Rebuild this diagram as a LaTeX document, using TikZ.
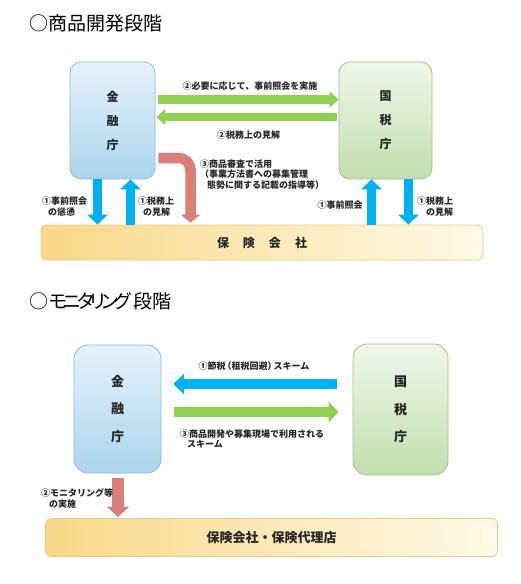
\documentclass[tikz,border=0pt]{standalone}
\usepackage{fontspec}
\setmainfont{Noto Sans CJK JP}
\newfontfamily\paltfont[RawFeature=+palt]{Noto Sans CJK JP}
\usetikzlibrary{arrows.meta}
\definecolor{arrblue}{HTML}{00B0F0}
\definecolor{arrgreen}{HTML}{92D050}
\definecolor{arrred}{HTML}{DA7F79}
\definecolor{bluetop}{HTML}{E6F2FB}
\definecolor{bluebot}{HTML}{ABD5ED}
\definecolor{blueedge}{HTML}{8FBBD9}
\definecolor{greentop}{HTML}{EFF7EA}
\definecolor{greenbot}{HTML}{C2DEAD}
\definecolor{greenedge}{HTML}{9FC58A}
\definecolor{yelleft}{HTML}{F8D888}
\definecolor{yelright}{HTML}{FFFAE8}
\definecolor{yeledge}{HTML}{E6CC80}
\definecolor{txt}{HTML}{262626}
\newcommand{\kk}{\hspace{-3.9pt}}
\begin{document}
\begin{tikzpicture}[x=1pt,y=-1pt,
  fsabox/.style={draw=blueedge, line width=0.8pt, rounded corners=11pt, top color=bluetop, bottom color=bluebot, align=center, inner sep=0pt, text=txt, font=\bfseries\fontsize{12}{24}\selectfont},
  ntabox/.style={draw=greenedge, line width=0.8pt, rounded corners=11pt, top color=greentop, bottom color=greenbot, align=center, inner sep=0pt, text=txt, font=\bfseries\fontsize{12}{24}\selectfont},
  insbox/.style={draw=yeledge, line width=0.8pt, rounded corners=6pt, left color=yelleft, right color=yelright, inner sep=0pt, text=txt},
  lbl/.style={inner sep=0pt, text=txt, font=\bfseries\fontsize{9}{10.5}\selectfont},
  ttl/.style={inner sep=0pt, anchor=west, text=black, font=\fontsize{19}{22}\selectfont},
  blue/.style={arrblue, line width=9pt, -{Triangle[width=20pt,length=10pt]}},
  green/.style={arrgreen, line width=8.5pt, -{Triangle[width=16pt,length=9pt]}},
  red/.style={arrred, line width=11pt, -{Triangle[width=20pt,length=9pt]}}
]
\useasboundingbox (0,0) rectangle (520,584);
\fill[white] (0,0) rectangle (520,584);

% ---------- section 1 ----------
\node[ttl] (t1) at (29,23) {○商品開発段階};
\node[fsabox, minimum width=85pt, minimum height=117pt] (fsa1) at (112.5,120.5) {金\\融\\庁};
\node[ntabox, minimum width=93pt, minimum height=117pt] (nta1) at (385.5,120.5) {国\\税\\庁};
\node[insbox, minimum width=442pt, minimum height=35pt, font=\bfseries\fontsize{12}{14}\selectfont] (ins1) at (262,242.5) {保\hspace{14pt}険\hspace{14pt}会\hspace{14pt}社};

\draw[green] ([xshift=3pt,yshift=21pt]fsa1.east) -- ([yshift=21pt]nta1.west);
\draw[green, line width=8pt] ([xshift=-2pt,yshift=3.5pt]nta1.west) -- ([xshift=1pt,yshift=3.5pt]fsa1.east);
\draw[red, line width=10.5pt, rounded corners=12pt, -{Triangle[width=19pt,length=8pt]}] ([xshift=3pt,yshift=-37.5pt]fsa1.east) -| ([xshift=-71.5pt,yshift=2pt]ins1.north);

\draw[blue, line width=8.5pt] ([xshift=-15pt]fsa1.south) -- ([xshift=-15pt]fsa1.south |- ins1.north);
\draw[blue] ([xshift=18pt]fsa1.south |- ins1.north) -- ([xshift=18pt]fsa1.south);
\draw[blue] ([xshift=-14pt]nta1.south |- ins1.north) -- ([xshift=-14pt]nta1.south);
\draw[blue] ([xshift=23pt]nta1.south) -- ([xshift=23pt]nta1.south |- ins1.north);

\node[lbl] (l1) at (250,86) {②必要に応じて、事前照会を実施};
\node[lbl] (l2) at (248.5,135) {②税務上の見解};
\node[lbl, anchor=west, align=left] (l3) at (200,174.5) {③商品審査で活用\\（事業方法書への募集管理\\\hspace{7pt}態勢に関する記載の指導等）};
\node[lbl, align=left, anchor=west] (l4) at (42,206.5) {①事前照会\\\hspace{6pt}の慫慂};
\node[lbl, align=left, anchor=west] (l5) at (138,206.5) {①税務上\\\hspace{5pt}の見解};
\node[lbl] (l6) at (340,205.5) {①事前照会};
\node[lbl, align=left, anchor=west] (l7) at (417,206.5) {①税務上\\\hspace{9pt}の見解};

% ---------- section 2 ----------
\node[ttl, font=\paltfont\fontsize{19}{22}\selectfont] (t2) at (29,301) {○\hspace{1pt}モ\kk ニ\kk タ\kk リ\kk ン\kk グ\hspace{2pt}段階};
\node[fsabox, rounded corners=14pt, minimum width=87pt, minimum height=128pt, font=\bfseries\fontsize{13}{27.7}\selectfont] (fsa2) at (117.5,409) {金\\融\\庁};
\node[ntabox, rounded corners=14pt, minimum width=95pt, minimum height=131pt, font=\bfseries\fontsize{13}{27.7}\selectfont] (nta2) at (400.5,409.5) {国\\税\\庁};
\node[insbox, minimum width=452pt, minimum height=38pt, font=\bfseries\fontsize{13}{15}\selectfont] (ins2) at (271.5,537.5) {保険会社・保険代理店};

\draw[blue, line width=9.5pt, -{Triangle[width=20pt,length=10.5pt]}] ([xshift=-16pt,yshift=25.5pt]nta2.west) -- ([xshift=12pt,yshift=25pt]fsa2.east);
\draw[green, line width=10pt, -{Triangle[width=20pt,length=10pt]}] ([xshift=13pt,yshift=-3pt]fsa2.east) -- ([xshift=-14pt,yshift=-2.5pt]nta2.west);
\draw[red, line width=11.5pt, -{Triangle[width=22pt,length=10.5pt]}] ([xshift=0.5pt,yshift=-4.5pt]fsa2.south) -- ([xshift=0.5pt,yshift=1pt]fsa2.south |- ins2.north);

\node[lbl] (m1) at (254,366) {①節税\hspace{-3pt}（租税回避）\hspace{-3pt}スキーム};
\node[lbl, align=left, anchor=west] (m2) at (180,439) {③商品開発や募集現場で利用される\\\hspace{7pt}スキーム};
\node[lbl, align=left, anchor=west] (m3) at (41,498.5) {②モニタリング等\\\hspace{8pt}の実施};
\end{tikzpicture}
\end{document}
